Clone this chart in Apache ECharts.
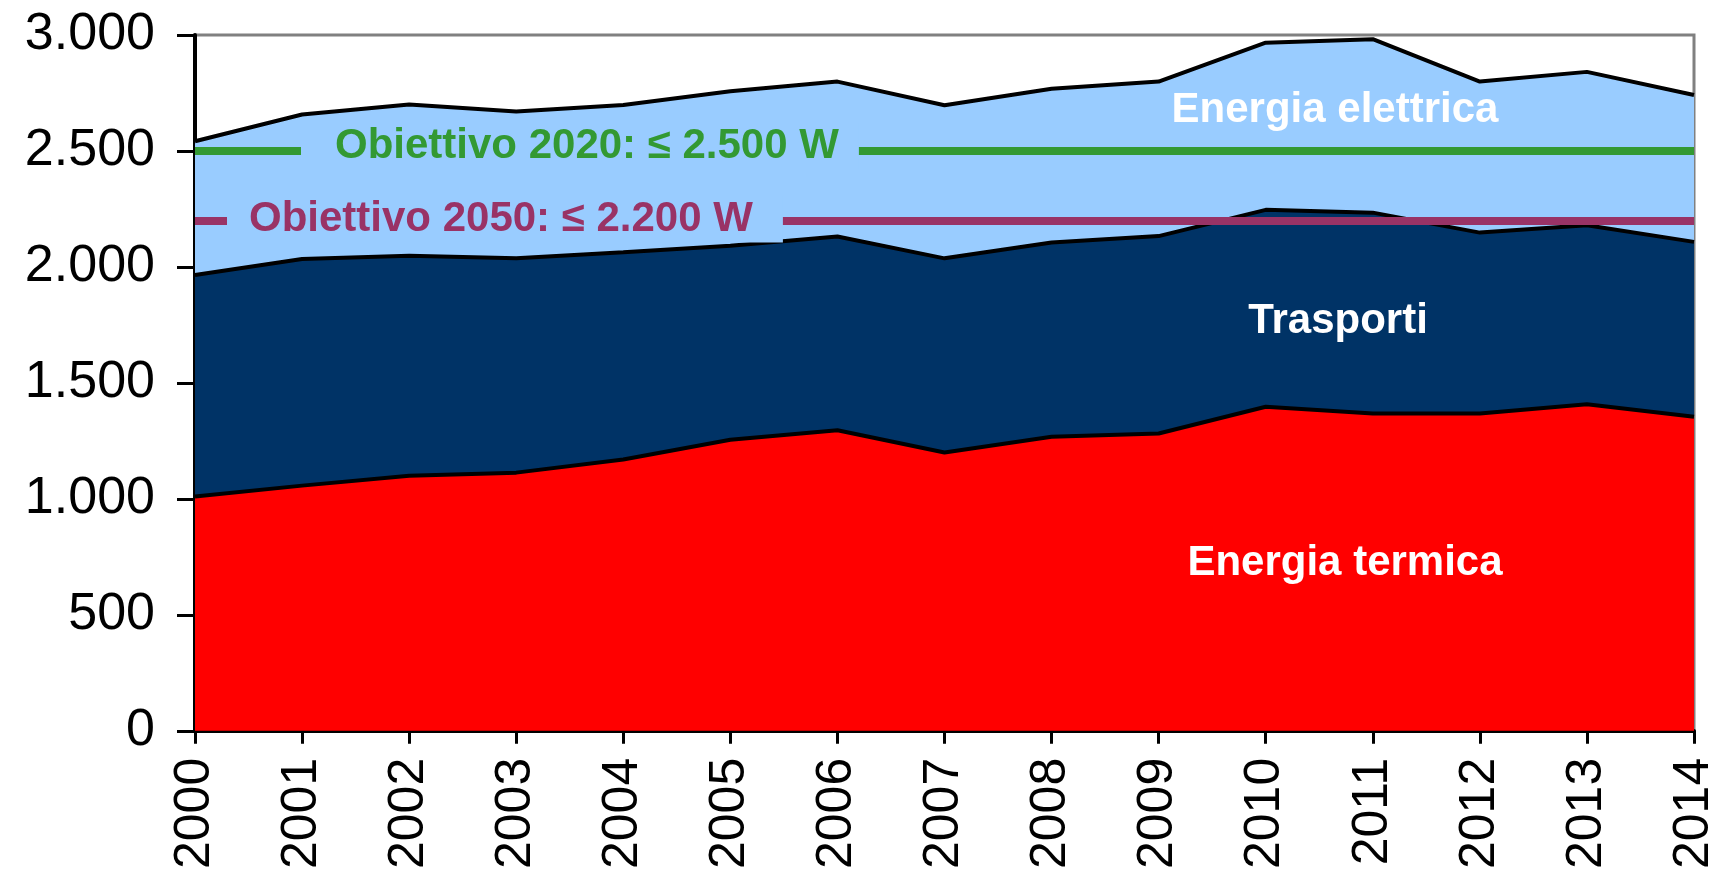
<!DOCTYPE html>
<html>
<head>
<meta charset="utf-8">
<script src="https://cdn.jsdelivr.net/npm/echarts@6/dist/echarts.min.js"></script>
<style>
    html, body { margin: 0; padding: 0; background: #ffffff; }
    #chart { width: 1719px; height: 872px; }
</style>
</head>
<body>
<div id="chart"></div>
<script>
var years = ['2000', '2001', '2002', '2003', '2004', '2005', '2006', '2007',
             '2008', '2009', '2010', '2011', '2012', '2013', '2014'];
// W pro capite, impilati: termica in basso, poi trasporti, poi elettrica
var termica   = [1010, 1057, 1100, 1113, 1170, 1255, 1296, 1200, 1268, 1282, 1397, 1368, 1368, 1408, 1354];
var trasporti = [955, 977, 948, 924, 893, 836, 835, 837, 837, 851, 849, 866, 780, 772, 754];
var elettrica = [577, 623, 652, 633, 635, 666, 668, 660, 663, 666, 721, 748, 651, 661, 633];
var obiettivo2020 = 2500;
var obiettivo2050 = 2200;

var FONT = '"Liberation Sans", Arial, sans-serif';

function fmt(v) {
    if (v < 1000) return String(v);
    var r = String(v % 1000);
    while (r.length < 3) r = '0' + r;
    return Math.floor(v / 1000) + '.' + r;
}

var chart = echarts.init(document.getElementById('chart'));

function areaSeries(name, data, color) {
    return {
        name: name,
        type: 'line',
        stack: 'tot',
        data: data,
        symbol: 'none',
        lineStyle: { color: '#000000', width: 4 },
        areaStyle: { color: color, opacity: 1 },
        z: 2
    };
}

var option = {
    animation: false,
    grid: {
        left: 195, right: 23, top: 35, bottom: 139,
        show: true, borderColor: '#808080', borderWidth: 3,
        backgroundColor: 'transparent'
    },
    xAxis: {
        type: 'category',
        data: years,
        boundaryGap: false,
        axisLine: { lineStyle: { color: '#000000', width: 4 } },
        axisTick: { show: true, length: 13, lineStyle: { color: '#000000', width: 3 } },
        axisLabel: {
            rotate: 90, margin: 27, color: '#000000',
            fontFamily: FONT, fontSize: 50
        },
        splitLine: { show: false }
    },
    yAxis: {
        type: 'value',
        min: 0, max: 3000, interval: 500,
        axisLine: { show: true, lineStyle: { color: '#000000', width: 4 } },
        axisTick: { show: true, length: 18, lineStyle: { color: '#000000', width: 3 } },
        axisLabel: {
            margin: 40, color: '#000000',
            fontFamily: FONT, fontSize: 52,
            formatter: fmt
        },
        splitLine: { show: false }
    },
    series: [
        areaSeries('Energia termica', termica, '#FF0000'),
        areaSeries('Trasporti', trasporti, '#003366'),
        areaSeries('Energia elettrica', elettrica, '#99CCFF'),
        {
            name: 'obiettivi',
            type: 'line',
            data: [],
            z: 5,
            markLine: {
                symbol: 'none',
                silent: true,
                label: { show: false },
                data: [
                    { yAxis: obiettivo2020, lineStyle: { color: '#339933', width: 8, type: 'solid' } },
                    { yAxis: obiettivo2050, lineStyle: { color: '#993366', width: 8, type: 'solid' } }
                ]
            }
        }
    ]
};
chart.setOption(option);

var y2020 = chart.convertToPixel({ yAxisIndex: 0 }, obiettivo2020);
var y2050 = chart.convertToPixel({ yAxisIndex: 0 }, obiettivo2050);

var areaLabel = { fill: '#ffffff', textAlign: 'center', textVerticalAlign: 'middle' };

chart.setOption({
    graphic: [
        {
            type: 'text', z: 10,
            style: {
                text: 'Obiettivo 2020: ≤ 2.500 W', x: 301, y: y2020 - 5,
                textAlign: 'left', textVerticalAlign: 'middle',
                font: 'bold 42px ' + FONT, fill: '#339933',
                backgroundColor: '#99CCFF', padding: [2, 20, 2, 34]
            }
        },
        {
            type: 'text', z: 10,
            style: {
                text: 'Obiettivo 2050: ≤ 2.200 W', x: 227, y: y2050 - 1,
                textAlign: 'left', textVerticalAlign: 'middle',
                font: 'bold 42px ' + FONT, fill: '#993366',
                backgroundColor: '#99CCFF', padding: [2, 30, 2, 22]
            }
        },
        { type: 'text', z: 10, style: Object.assign({ text: 'Energia elettrica', x: 1335, y: 110, font: 'bold 42px ' + FONT }, areaLabel) },
        { type: 'text', z: 10, style: Object.assign({ text: 'Trasporti', x: 1338, y: 321, font: 'bold 42px ' + FONT }, areaLabel) },
        { type: 'text', z: 10, style: Object.assign({ text: 'Energia termica', x: 1345, y: 563, font: 'bold 42px ' + FONT }, areaLabel) }
    ]
});
</script>
</body>
</html>
